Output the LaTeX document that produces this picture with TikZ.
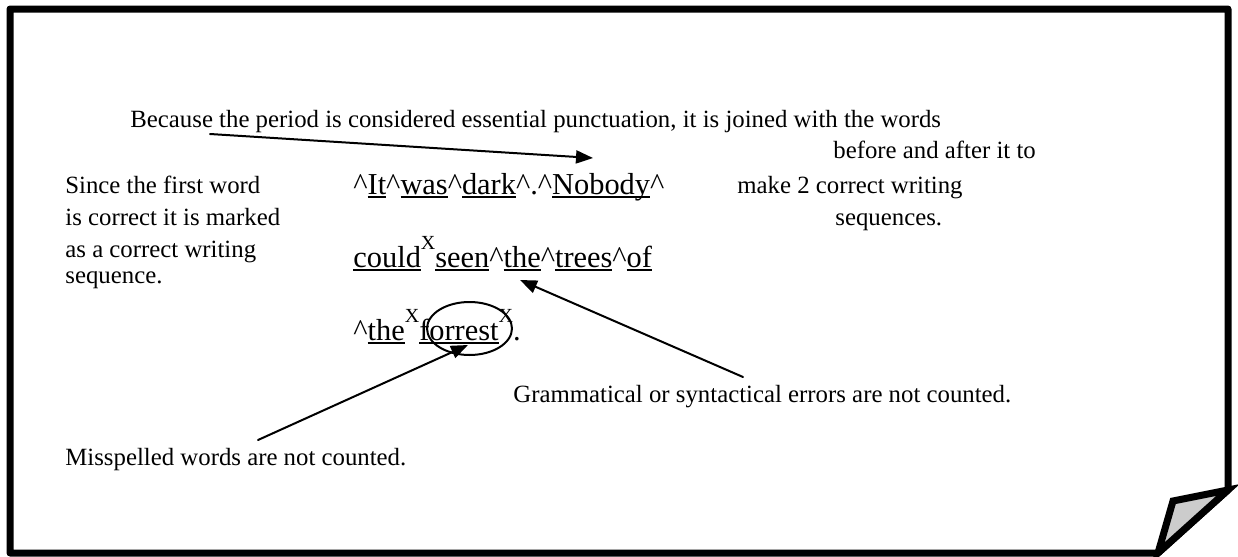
\documentclass[tikz,border=0pt]{standalone}
\usepackage{fontspec}
\setmainfont{Liberation Serif}
\usetikzlibrary{arrows.meta, shapes.geometric}
\definecolor{foldgray}{HTML}{CCCCCC}
% underlined word, the rule cuts through descenders as in the original
\newcommand\uword[1]{\setbox0\hbox{#1}\rlap{\rule[-1.8pt]{\wd0}{0.8pt}}\box0}
\newcommand\supx{\raisebox{9pt}{\fontsize{10}{12}\selectfont X}}
\newcommand\crt{\textasciicircum}
\tikzset{
  >={Triangle[length=8.5pt, width=6.5pt]},
  every picture/.style={line cap=round, line join=round},
  note/.style={anchor=base west, inner sep=0pt, font=\fontsize{12.4}{14}\selectfont},
  sample/.style={anchor=base west, inner sep=0pt, font=\fontsize{15.2}{18}\selectfont},
  pointer/.style={->, line width=1pt},
  page/.style={line width=3.5pt},
}
\begin{document}
\begin{tikzpicture}[x=0.5pt, y=-0.5pt]
  \useasboundingbox (0,0) rectangle (1238,557);
  % sheet with the curled corner
  \draw[page] (10,9) -- (1228,9) -- (1228,490) -- (1158,553) -- (10,553) -- cycle;
  \draw[page, fill=foldgray, line join=miter] (1228,490) -- (1173,501) -- (1158,553) -- cycle;
  % comments
  \node[note] (because) at (130,127) {Because the period is considered essential punctuation, it is joined with the words};
  \node[note] (before) at (833,158) {before and after it to};
  \node[note] (make) at (737,193) {make 2 correct writing};
  \node[note] (seqs) at (835,225) {sequences.};
  \node[note] (since) at (65,193) {Since the first word};
  \node[note] (marked) at (65,225) {is correct it is marked};
  \node[note] (asa) at (65,257) {as a correct writing};
  \node[note] (seq) at (65,283) {sequence.};
  \node[note] (gram) at (513,402) {Grammatical or syntactical errors are not counted.};
  \node[note] (missp) at (65,465) {Misspelled words are not counted.};
  % writing sample
  \node[sample] (row1) at (353,194) {\crt\uword{It}\crt\uword{was}\crt\uword{dark}\crt.\crt\uword{Nobody}\crt};
  \node[sample] (row2) at (353,267) {\uword{could}\supx\uword{seen}\crt\uword{the}\crt\uword{trees}\crt\uword{of}};
  \node[sample] (row3) at (353,340) {\crt\uword{the}\supx\uword{forrest}\supx.};
  \node[draw, ellipse, line width=1pt, inner sep=0pt, minimum width=42.5pt, minimum height=26.5pt] (oval) at (469.5,328.5) {};
  % pointers
  \coordinate (periodtail) at (210,134);
  \coordinate (periodtip) at (593,158);
  \coordinate (gramtail) at (743,377);
  \coordinate (gramtip) at (520,280);
  \coordinate (missptail) at (258,440);
  \coordinate (missptip) at (468,345);
  \draw[pointer] (periodtail) -- (periodtip);
  \draw[pointer] (gramtail) -- (gramtip);
  \draw[pointer] (missptail) -- (missptip);
\end{tikzpicture}
\end{document}
